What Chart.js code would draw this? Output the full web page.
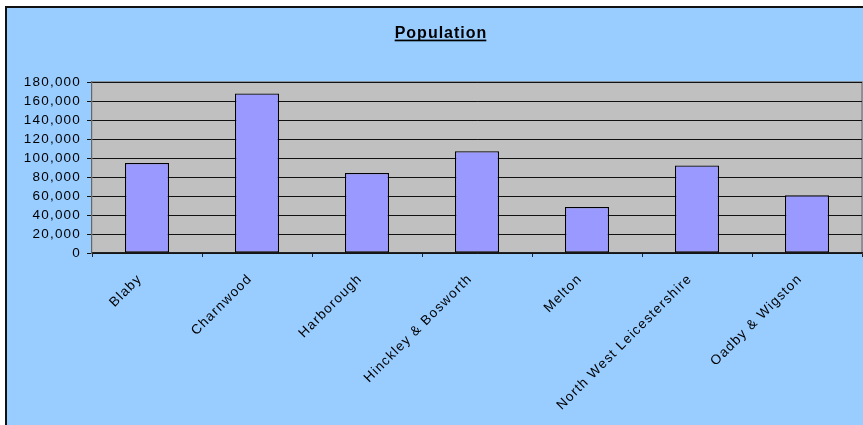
<!DOCTYPE html>
<html lang="en">
<head>
    <meta charset="utf-8">
    <title>Population</title>
    <script src="https://cdn.jsdelivr.net/npm/chart.js"></script>
    <style>
        body,
        html {
            margin: 0;
            background: #ffffff;
            overflow: hidden;
        }

        #frame {
            position: absolute;
            left: 5px;
            top: 6px;
            width: 856px;
            height: 417px;
            border-left: 2px solid #111;
            border-top: 2px solid #111;
            background: #99ccff;
        }

        #frame canvas {
            display: block;
        }
    </style>
</head>
<body>

<div id="frame">
    <canvas id="myChart" width="856" height="417"></canvas>
</div>

<script>
    const chartTitle = 'Population'
    const districts = ['Blaby', 'Charnwood', 'Harborough', 'Hinckley & Bosworth', 'Melton',
        'North West Leicestershire', 'Oadby & Wigston']
    const population = [94700, 167800, 84200, 107000, 48400, 92000, 60700]
    const yTicks = [0, 20000, 40000, 60000, 80000, 100000, 120000, 140000, 160000, 180000]

    const fontFace = '"Liberation Sans", Arial, sans-serif'

    // excel-ish text is a bit wider than plain arial
    const gap = '1.2px'
    const spacing = {
        id: 'spacing',
        beforeInit(chart) { chart.ctx.letterSpacing = gap },
        beforeUpdate(chart) { chart.ctx.letterSpacing = gap },
        beforeDraw(chart) { chart.ctx.letterSpacing = gap }
    }

    // grey plot area with a darker rim, plus the underlined title
    const plotBack = {
        id: 'plotBack',
        beforeDraw(chart) {
            const {ctx, chartArea: a} = chart
            ctx.save()
            ctx.fillStyle = '#c0c0c0'
            ctx.fillRect(a.left, a.top, a.right - a.left, a.bottom - a.top)
            ctx.strokeStyle = '#808080'
            ctx.lineWidth = 1.5
            ctx.beginPath()
            ctx.moveTo(a.left, a.top)
            ctx.lineTo(a.right, a.top)
            ctx.lineTo(a.right, a.bottom)
            ctx.stroke()

            ctx.letterSpacing = '1px'
            ctx.font = 'bold 16px ' + fontFace
            ctx.fillStyle = '#000'
            ctx.textAlign = 'center'
            ctx.textBaseline = 'alphabetic'
            const cx = 434
            ctx.fillText(chartTitle, cx, 30)
            const w = ctx.measureText(chartTitle).width
            ctx.fillRect(cx - w / 2, 31.6, w - 1, 1.7)
            ctx.restore()
        }
    }

    const data = {
        labels: districts,
        datasets: [{
            label: 'Population',
            data: population,
            backgroundColor: '#9999ff',
            borderColor: '#000',
            borderWidth: 1.2,
            borderSkipped: false,
            categoryPercentage: 1,
            barPercentage: 0.4
        }]
    }

    const config = {
        type: 'bar',
        data: data,
        plugins: [spacing, plotBack],
        options: {
            responsive: false,
            animation: false,
            devicePixelRatio: 1,
            layout: {
                padding: {left: 0, top: 74, right: 1, bottom: 0}
            },
            plugins: {
                legend: {display: false},
                title: {display: false},
                tooltip: {enabled: false}
            },
            scales: {
                x: {
                    afterFit(scale) { scale.height = 172 },
                    grid: {
                        offset: true,
                        drawOnChartArea: false,
                        drawTicks: true,
                        tickLength: 4,
                        color: '#222'
                    },
                    border: {display: true, color: '#222', width: 1.2},
                    ticks: {
                        autoSkip: false,
                        minRotation: 45,
                        maxRotation: 45,
                        padding: 14,
                        labelOffset: -7,
                        color: '#000',
                        font: {family: fontFace, size: 13.5}
                    }
                },
                y: {
                    min: 0,
                    max: 180000,
                    afterFit(scale) { scale.width = 85 },
                    afterBuildTicks(scale) {
                        scale.ticks = yTicks.map(v => ({value: v}))
                    },
                    grid: {
                        color: '#111',
                        lineWidth: 1,
                        drawTicks: true,
                        tickLength: 5
                    },
                    border: {display: true, color: '#666', width: 1.2},
                    ticks: {
                        autoSkip: false,
                        padding: 6,
                        color: '#000',
                        font: {family: fontFace, size: 13.5},
                        callback: v => v.toLocaleString('en-US')
                    }
                }
            }
        }
    }

    const myChart = new Chart(document.getElementById('myChart'), config)
</script>

</body>
</html>
